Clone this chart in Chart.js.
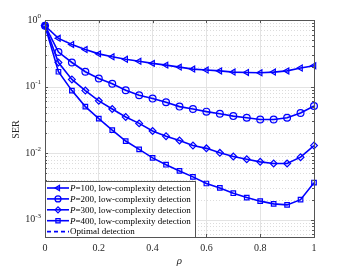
<!DOCTYPE html>
<html>
<head>
<meta charset="utf-8">
<script src="https://cdn.jsdelivr.net/npm/chart.js@4.4.1/dist/chart.umd.min.js"></script>
<style>
  html, body { margin: 0; padding: 0; background: #fff; }
  #wrap { width: 348px; height: 267px; }
</style>
</head>
<body>
<div id="wrap"><canvas id="serChart"></canvas></div>
<script>
// data
const rho = [0, 0.05, 0.1, 0.15, 0.2, 0.25, 0.3, 0.35, 0.4, 0.45, 0.5, 0.55, 0.6, 0.65, 0.7, 0.75, 0.8, 0.85, 0.9, 0.95, 1];
const serP100 = [0.82, 0.53, 0.43, 0.36, 0.31, 0.28, 0.257, 0.24, 0.223, 0.21, 0.196, 0.183, 0.177, 0.172, 0.165, 0.163, 0.161, 0.165, 0.172, 0.19, 0.206];
const serP200 = [0.82, 0.33, 0.23, 0.167, 0.132, 0.11, 0.088, 0.074, 0.066, 0.058, 0.05, 0.046, 0.042, 0.039, 0.036, 0.034, 0.032, 0.032, 0.034, 0.04, 0.051];
const serP300 = [0.82, 0.23, 0.128, 0.087, 0.061, 0.046, 0.035, 0.028, 0.0215, 0.018, 0.0155, 0.013, 0.0118, 0.0101, 0.0089, 0.0081, 0.0074, 0.007, 0.007, 0.0087, 0.013];
const serP400 = [0.82, 0.167, 0.087, 0.05, 0.033, 0.0222, 0.0152, 0.0114, 0.0085, 0.0067, 0.0054, 0.0044, 0.0035, 0.003, 0.0025, 0.00215, 0.0019, 0.00173, 0.00167, 0.002, 0.0036];
const xTicks = [0, 0.2, 0.4, 0.6, 0.8, 1];
const xTickLabels = ['0', '0.2', '0.4', '0.6', '0.8', '1'];
const yTickExps = [0, -1, -2, -3];
const legendLabels = ['P=100, low-complexity detection', 'P=200, low-complexity detection', 'P=300, low-complexity detection', 'P=400, low-complexity detection', 'Optimal detection'];

const blue = 'rgb(0,0,255)';
const serif = '"Liberation Serif", "Times New Roman", serif';

function series(vals, style, rot) {
   return {
      data: rho.map((r, i) => ({ x: r, y: vals[i] })),
      borderColor: blue,
      backgroundColor: 'rgba(0,0,255,0.08)',
      borderWidth: 1.6,
      pointStyle: style,
      pointRotation: rot || 0,
      pointRadius: style === 'rect' ? 3.2 : 3.4,
      pointBorderWidth: 1.2,
      pointBorderColor: blue,
      pointBackgroundColor: 'rgba(0,0,255,0.08)',
      clip: false,
      tension: 0
   };
}

const markers = [['triangle', -90], ['circle', 0], ['rectRot', 0], ['rect', 0]];

const frame = {
   id: 'frame',
   beforeDatasetsDraw(chart) {
      const c = chart.ctx, a = chart.chartArea, y = chart.scales.y;
      c.save();
      c.lineWidth = 1;
      for (let e = -4; e <= 0; e++) {
         for (let m = 1; m <= 9; m++) {
            const v = m * Math.pow(10, e);
            if (v < y.min || v > y.max) continue;
            const py = Math.round(y.getPixelForValue(v)) + 0.5;
            c.strokeStyle = m === 1 ? '#e3e3e3' : '#dcdcdc';
            c.setLineDash(m === 1 ? [] : [1, 2]);
            c.beginPath(); c.moveTo(a.left, py); c.lineTo(a.right, py); c.stroke();
         }
      }
      c.restore();
   },
   afterDatasetsDraw(chart) {
      const c = chart.ctx, a = chart.chartArea, y = chart.scales.y, x = chart.scales.x;
      c.save();
      // box
      c.strokeStyle = '#555';
      c.lineWidth = 1;
      c.strokeRect(Math.round(a.left) + 0.5, Math.round(a.top) + 0.5, Math.round(a.right - a.left), Math.round(a.bottom - a.top));
      // ticks
      c.beginPath();
      for (let e = -4; e <= 0; e++) {
         for (let m = 1; m <= 9; m++) {
            const v = m * Math.pow(10, e);
            if (v < y.min || v > y.max) continue;
            const py = Math.round(y.getPixelForValue(v)) + 0.5;
            const len = m === 1 ? 3 : 2;
            c.moveTo(a.left, py); c.lineTo(a.left + len, py);
            c.moveTo(a.right, py); c.lineTo(a.right - len, py);
         }
      }
      xTicks.forEach(t => {
         const px = Math.round(x.getPixelForValue(t)) + 0.5;
         c.moveTo(px, a.bottom); c.lineTo(px, a.bottom - 3);
         c.moveTo(px, a.top); c.lineTo(px, a.top + 3);
      });
      c.stroke();
      // y tick labels 10^k
      c.fillStyle = '#262626';
      c.textBaseline = 'middle';
      yTickExps.forEach(k => {
         const py = y.getPixelForValue(Math.pow(10, k));
         const sup = k === 0 ? '0' : '-' + Math.abs(k);
         c.font = '7px ' + serif;
         const sw = c.measureText(sup).width;
         c.textAlign = 'right';
         c.fillText(sup, a.left - 4, py - 4);
         c.font = '10px ' + serif;
         c.fillText('10', a.left - 4 - sw, py);
      });
      // axis titles
      c.font = '10px ' + serif;
      c.textAlign = 'center';
      c.save();
      c.translate(16, (a.top + a.bottom) / 2 + 1);
      c.rotate(-Math.PI / 2);
      c.fillText('SER', 0, 0);
      c.restore();
      c.font = 'italic 11px ' + serif;
      c.fillText('\u03C1', (a.left + a.right) / 2, 261);
      // legend
      const lx = a.left, ly = 181.5, lw = 150, lh = a.bottom - ly;
      c.fillStyle = '#fff';
      c.fillRect(lx, ly, lw, lh);
      c.strokeStyle = '#555';
      c.strokeRect(Math.round(lx) + 0.5, ly, lw, Math.round(lh));
      legendLabels.forEach((lab, i) => {
         const ey = ly + 6.5 + i * 10.9;
         c.strokeStyle = blue;
         c.lineWidth = 1.6;
         c.setLineDash(i === 4 ? [4, 3] : []);
         c.beginPath(); c.moveTo(lx + 2, ey); c.lineTo(lx + 24, ey); c.stroke();
         c.setLineDash([]);
         if (i < 4) {
            c.lineWidth = 1.2;
            c.fillStyle = 'rgba(0,0,255,0.08)';
            Chart.helpers.drawPoint(c, { pointStyle: markers[i][0], rotation: markers[i][1], radius: 3, borderWidth: 1.2 }, lx + 13, ey);
         }
         c.fillStyle = '#000';
         c.textAlign = 'left';
         let tx = lx + 25;
         if (i < 4) {
            c.font = 'italic 9px ' + serif;
            c.fillText('P', tx, ey + 0.5);
            tx += c.measureText('P').width;
            c.font = '9px ' + serif;
            c.fillText(lab.slice(1), tx, ey + 0.5);
         } else {
            c.font = '9px ' + serif;
            c.fillText(lab, tx, ey + 0.5);
         }
      });
      c.restore();
   }
};

const ctx = document.getElementById('serChart').getContext('2d');
const serChart = new Chart(ctx, {
   type: 'line',
   data: {
      datasets: [
         series(serP100, markers[0][0], markers[0][1]),
         series(serP200, markers[1][0], markers[1][1]),
         series(serP300, markers[2][0], markers[2][1]),
         series(serP400, markers[3][0], markers[3][1])
      ]
   },
   options: {
      responsive: true,
      maintainAspectRatio: false,
      animation: false,
      devicePixelRatio: 1,
      layout: { padding: { left: 0, right: 34, top: 20, bottom: 0 } },
      plugins: { legend: { display: false }, tooltip: { enabled: false } },
      scales: {
         x: {
            type: 'linear',
            min: 0,
            max: 1,
            afterBuildTicks: s => { s.ticks = xTicks.map(v => ({ value: v })); },
            afterFit: s => { s.height = 30; },
            grid: { color: '#e3e3e3', drawTicks: false },
            border: { display: false },
            ticks: {
               color: '#262626', padding: 5, maxRotation: 0, font: { family: serif, size: 10 },
               callback: (v, i) => xTickLabels[i]
            }
         },
         y: {
            type: 'logarithmic',
            min: 0.00055,
            max: 1,
            afterFit: s => { s.width = 45; },
            grid: { display: false },
            border: { display: false },
            ticks: { display: false }
         }
      }
   },
   plugins: [frame]
});
</script>
</body>
</html>
